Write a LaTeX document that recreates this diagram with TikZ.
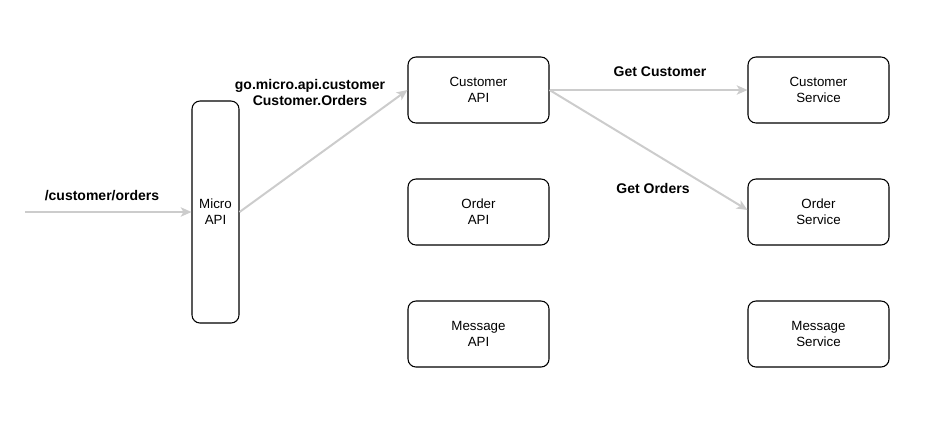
\documentclass[tikz,border=0pt]{standalone}
\usepackage{fontspec}
\setmainfont{Liberation Sans}
\usetikzlibrary{arrows.meta}
\definecolor{flowgray}{RGB}{204,204,204}

\begin{document}
\begin{tikzpicture}[x=0.75pt,y=-0.75pt, svcnode/.style={draw,rounded corners=6pt,fill=white,line width=0.8pt,minimum width=105.75pt,minimum height=49.5pt,align=center,font=\fontsize{10}{12}\selectfont}, flow/.style={draw=flowgray,line width=1.5pt,-{Stealth[length=8pt,width=7pt,inset=2pt,flowgray]}}, flowlbl/.style={font=\bfseries\fontsize{10.5}{12}\selectfont,align=center}]
            \useasboundingbox (0,0) rectangle (952,426);
            \node[svcnode,minimum width=35.25pt,minimum height=166.5pt] (micro) at (215.5,212) {Micro\\API};
            \node[svcnode] (capi) at (478.5,90) {Customer\\API};
            \node[svcnode] (oapi) at (478.5,212) {Order\\API};
            \node[svcnode] (mapi) at (478.5,334) {Message\\API};
            \node[svcnode] (csrv) at (818.5,90) {Customer\\Service};
            \node[svcnode] (osrv) at (818.5,212) {Order\\Service};
            \node[svcnode] (msrv) at (818.5,334) {Message\\Service};
            \coordinate (in) at (25,212);

            \node[flowlbl] (lin) at (102,196) {/customer/orders};
            \node[flowlbl] (lroute) at (310,92) {go.micro.api.customer\\Customer.Orders};
            \node[flowlbl] (lcust) at (660,72) {Get Customer};
            \node[flowlbl] (lord) at (653,188) {Get Orders};

            \draw[flow] (in)--(micro.west);
            \draw[flow] (micro.east)--(capi.west);
            \draw[flow] (capi.east)--(csrv.west);
            \draw[flow] (capi.east)--([yshift=1.5pt]osrv.west);
        \end{tikzpicture}
\end{document}
